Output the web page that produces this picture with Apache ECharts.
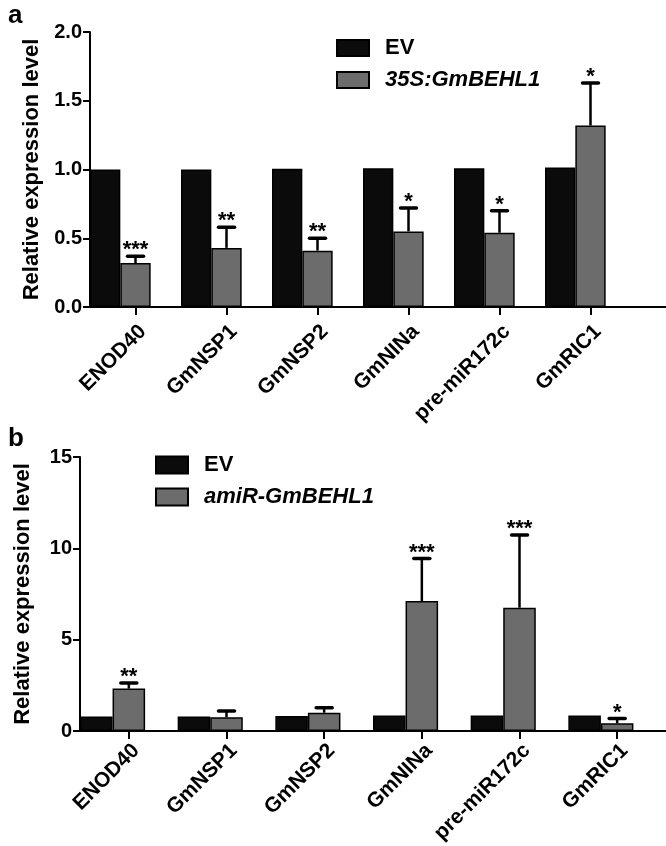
<!DOCTYPE html>
<html>
<head>
<meta charset="utf-8">
<script src="https://cdn.jsdelivr.net/npm/echarts@6/dist/echarts.min.js"></script>
<style>
html,body{margin:0;padding:0;background:#fff;}
#chart{width:666px;height:846px;}
</style>
</head>
<body>
<div id="chart"></div>
<script>
// ---- data ----
var categories = ['ENOD40', 'GmNSP1', 'GmNSP2', 'GmNINa', 'pre-miR172c', 'GmRIC1'];
// panel a
var aEV = [1.00, 1.00, 1.005, 1.01, 1.01, 1.015];
var aOE = [0.32, 0.43, 0.41, 0.55, 0.54, 1.32];
var aOEErr = [0.05, 0.15, 0.09, 0.17, 0.16, 0.31];
var aSig = ['***', '**', '**', '*', '*', '*'];
var aTicks = [0, 0.5, 1.0, 1.5, 2.0];
// panel b
var bEV = [0.80, 0.80, 0.82, 0.85, 0.85, 0.85];
var bAmi = [2.32, 0.75, 1.00, 7.11, 6.75, 0.42];
var bAmiErr = [0.31, 0.35, 0.27, 2.33, 3.98, 0.26];
var bSig = ['**', '', '', '***', '***', '*'];
var bTicks = [0, 5, 10, 15];

var FONT = '"Liberation Sans", Arial, Helvetica, sans-serif';
var BLACK = '#0b0b0b';
var GRAY = '#6c6c6c';

function errData(vals, errs) {
  return vals.map(function (v, i) { return [i, v, v + errs[i]]; });
}

function renderErr(params, api) {
  var idx = api.value(0);
  var top = api.coord([idx, api.value(1)]);
  var cap = api.coord([idx, api.value(2)]);
  return { type: 'group', children: [
    { type: 'line', shape: { x1: top[0], y1: top[1], x2: cap[0], y2: cap[1] },
      style: { stroke: '#000', lineWidth: 2.5 } },
    { type: 'line', shape: { x1: cap[0] - 8, y1: cap[1], x2: cap[0] + 8, y2: cap[1] },
      style: { stroke: '#000', lineWidth: 3.5, lineCap: 'round' } }
  ] };
}

var sigStore = { sigA: aSig, sigB: bSig };
function renderSig(params, api) {
  var idx = api.value(0);
  var cap = api.coord([idx, api.value(2)]);
  var txt = sigStore[params.seriesName][params.dataIndex] || '';
  return {
    type: 'text',
    style: { text: txt, x: cap[0], y: cap[1] + 5, align: 'center', verticalAlign: 'bottom',
      fontSize: 22, fontWeight: 'bold', fontFamily: FONT, fill: '#000' }
  };
}

function yAxisCfg(gridIndex, min, max, interval, fmt, nameGap) {
  return {
    type: 'value', gridIndex: gridIndex, min: min, max: max, interval: interval,
    name: 'Relative expression level', nameLocation: 'middle', nameGap: nameGap,
    nameTextStyle: { fontSize: 22, fontWeight: 'bold', fontFamily: FONT, color: '#000' },
    axisLine: { show: true, lineStyle: { color: '#000', width: 2 } },
    axisTick: { show: true, length: 7, lineStyle: { color: '#000', width: 2 } },
    axisLabel: { fontSize: 20, fontWeight: 'bold', fontFamily: FONT, color: '#000', margin: 8,
      formatter: fmt },
    splitLine: { show: false }
  };
}
function xAxisCfg(gridIndex, margin) {
  return {
    type: 'category', gridIndex: gridIndex, data: categories,
    axisLine: { show: true, lineStyle: { color: '#000', width: 2 } },
    axisTick: { show: true, alignWithLabel: true, length: 8, lineStyle: { color: '#000', width: 2 } },
    axisLabel: { rotate: 45, fontSize: 21, fontWeight: 'bold', fontFamily: FONT, color: '#000',
      margin: margin, interval: 0, verticalAlign: 'top' },
    splitLine: { show: false }
  };
}
function barSeries(name, xi, data, color) {
  return {
    type: 'bar', name: name, xAxisIndex: xi, yAxisIndex: xi, data: data,
    barGap: '0%', barCategoryGap: '0%',
    itemStyle: { color: color, borderColor: '#000', borderWidth: 1.5 },
    emphasis: { disabled: true }, silent: true
  };
}

var legendRich = {
  n: { fontSize: 22, fontWeight: 'bold', fontFamily: FONT, color: '#000', padding: [0, 0, 0, 11], lineHeight: 17 },
  i: { fontSize: 22, fontWeight: 'bold', fontStyle: 'italic', fontFamily: FONT, color: '#000', padding: [0, 0, 0, 11], lineHeight: 17 }
};
function legendFmt(name) { return name === 'EV' ? '{n|EV}' : '{i|' + name + '}'; }

var chart = echarts.init(document.getElementById('chart'), null, { renderer: 'canvas' });
var option = {
  animation: false,
  backgroundColor: '#fff',
  title: [
    { text: 'a', left: 3, top: -2, textStyle: { fontSize: 26, fontWeight: 'bold', fontFamily: FONT, color: '#000' } },
    { text: 'b', left: 3, top: 421, textStyle: { fontSize: 26, fontWeight: 'bold', fontFamily: FONT, color: '#000' } }
  ],
  legend: [
    { data: ['EV', '35S:GmBEHL1'], orient: 'vertical', left: 336, top: 37, padding: 0,
      itemWidth: 32, itemHeight: 16, itemGap: 10, selectedMode: false, icon: 'rect',
      formatter: legendFmt, textStyle: { rich: legendRich } },
    { data: ['EV', 'amiR-GmBEHL1'], orient: 'vertical', left: 155, top: 454, padding: 0,
      itemWidth: 32, itemHeight: 17, itemGap: 10, selectedMode: false, icon: 'rect',
      formatter: legendFmt, textStyle: { rich: legendRich } }
  ],
  grid: [
    { left: 90, top: 32, width: 546, height: 275, containLabel: false, outerBoundsMode: 'none' },
    { left: 80, top: 457, right: 0, height: 274, containLabel: false, outerBoundsMode: 'none' }
  ],
  xAxis: [xAxisCfg(0, 14), xAxisCfg(1, 9)],
  yAxis: [
    yAxisCfg(0, aTicks[0], aTicks[aTicks.length - 1], 0.5, function (v) { return v.toFixed(1); }, 47),
    yAxisCfg(1, bTicks[0], bTicks[bTicks.length - 1], 5, function (v) { return String(v); }, 46)
  ],
  series: [
    barSeries('EV', 0, aEV, BLACK),
    barSeries('35S:GmBEHL1', 0, aOE, GRAY),
    barSeries('', 0, categories.map(function () { return '-'; }), 'transparent'),
    { type: 'custom', name: 'errA', xAxisIndex: 0, yAxisIndex: 0, renderItem: renderErr,
      data: errData(aOE, aOEErr), encode: { x: 0, y: [1, 2] }, z: 5, silent: true },
    { type: 'custom', name: 'sigA', xAxisIndex: 0, yAxisIndex: 0, renderItem: renderSig,
      data: errData(aOE, aOEErr), encode: { x: 0, y: [1, 2] }, z: 5, silent: true },

    barSeries('EV', 1, bEV, BLACK),
    barSeries('amiR-GmBEHL1', 1, bAmi, GRAY),
    barSeries('', 1, categories.map(function () { return '-'; }), 'transparent'),
    { type: 'custom', name: 'errB', xAxisIndex: 1, yAxisIndex: 1, renderItem: renderErr,
      data: errData(bAmi, bAmiErr), encode: { x: 0, y: [1, 2] }, z: 5, silent: true },
    { type: 'custom', name: 'sigB', xAxisIndex: 1, yAxisIndex: 1, renderItem: renderSig,
      data: errData(bAmi, bAmiErr), encode: { x: 0, y: [1, 2] }, z: 5, silent: true }
  ]
};
chart.setOption(option);

// extend panel a's x-axis line to the right edge, as in the original figure
var gridA = chart.getModel().getComponent('grid', 0).coordinateSystem.getRect();
chart.setOption({
  graphic: [{ type: 'line', shape: { x1: gridA.x + gridA.width - 1, y1: gridA.y + gridA.height,
    x2: 666, y2: gridA.y + gridA.height }, style: { stroke: '#000', lineWidth: 2 }, z: 10 }]
});
</script>
</body>
</html>
